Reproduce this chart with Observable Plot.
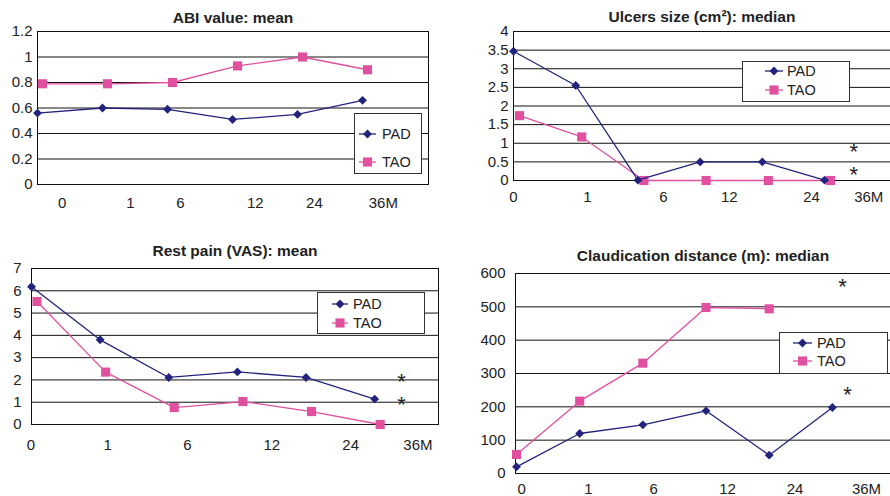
<!DOCTYPE html>
<html><head><meta charset="utf-8">
<script src="https://cdn.jsdelivr.net/npm/d3@7"></script>
<script src="https://cdn.jsdelivr.net/npm/@observablehq/plot@0.6"></script>
<style>
body{margin:0;background:#fff;}
#root{position:relative;width:890px;height:496px;overflow:hidden;font-family:"Liberation Sans",Arial,sans-serif;background:#fff;}
.panel{position:absolute;}
.panel svg{overflow:visible;}
.legend{position:absolute;background:#fff;border:1px solid #333;box-sizing:border-box;}
</style></head><body><div id="root"></div>
<script>
// ---- data ----
const timeLabels = ["0","1","6","12","24","36M"];
const seriesNames = ["PAD","TAO"];

const abiPAD = [0.56,0.60,0.59,0.51,0.55,0.66];
const abiTAO = [0.79,0.79,0.80,0.93,1.00,0.90];
const abiTicks = [0,0.2,0.4,0.6,0.8,1,1.2];

const ulcerPAD = [3.47,2.55,0.01,0.5,0.5,0.01];
const ulcerTAO = [1.74,1.17,0.0,0.0,0.0,0.0];
const ulcerTicks = [0,0.5,1,1.5,2,2.5,3,3.5,4];
const ulcerStars = [{t:5.47,v:0.86},{t:5.47,v:0.24}];

const painPAD = [6.18,3.8,2.11,2.36,2.11,1.14];
const painTAO = [5.52,2.35,0.76,1.03,0.58,0.0];
const painTicks = [0,1,2,3,4,5,6,7];
const painStars = [{t:5.39,v:2.06},{t:5.39,v:0.99}];

const claudPAD = [20,120,146,188,55,198];
const claudTAO = [57,217,331,498,494];
const claudTicks = [0,100,200,300,400,500,600];
const claudStars = [{t:5.16,v:570},{t:5.24,v:246}];

// ---- style ----
const PADcolor = "#23237e";
const TAOcolor = "#e0509f";
const ink = "#222";

// ---- layout ----
const panels = [
  {title:"ABI value: mean", pad:abiPAD, tao:abiTAO, yTicks:abiTicks, stars:[],
   box:{left:0,top:0,width:445,height:230}, margin:{top:31,right:17,bottom:46,left:37},
   xDomain:[0,6.015], labelAt:[0.38,1.43,2.2,3.35,4.26,5.32], labelDy:19, taoShift:5, yPad:5, titleDy:-13.5, fullFrame:true,
   legend:{left:354,top:113,width:68,height:61,rows:[21,49],line:[5,22],text:28}},
  {title:"Ulcers size (cm²): median", pad:ulcerPAD, tao:ulcerTAO, yTicks:ulcerTicks, stars:ulcerStars,
   box:{left:445,top:0,width:445,height:230}, margin:{top:31,right:0,bottom:50,left:68},
   xDomain:[0,6.06], labelAt:[0,1.19,2.41,3.47,4.79,5.71], labelDy:17, taoShift:6, yPad:5, titleDy:-14, fullFrame:false,
   legend:{left:742,top:61,width:108,height:41,rows:[10,29],line:[23,41],text:45}},
  {title:"Rest pain (VAS): mean", pad:painPAD, tao:painTAO, yTicks:painTicks, stars:painStars,
   box:{left:0,top:230,width:445,height:266}, margin:{top:38,right:7,bottom:72,left:31},
   xDomain:[0,5.93], labelAt:[-0.01,1.11,2.27,3.5,4.65,5.63], labelDy:21, taoShift:5.5, yPad:10, titleDy:-17, fullFrame:true,
   legend:{left:317,top:292,width:108,height:42,rows:[12,31],line:[15,31],text:36}},
  {title:"Claudication distance (m): median", pad:claudPAD, tao:claudTAO, yTicks:claudTicks, stars:claudStars,
   box:{left:445,top:230,width:445,height:266}, margin:{top:43,right:0,bottom:23,left:70},
   xDomain:[-0.016,5.92], labelAt:[0.08,1.14,2.17,3.34,4.41,5.54], labelDy:16, taoShift:0, yPad:10, titleDy:-17, fullFrame:false,
   legend:{left:779,top:332,width:109,height:42,rows:[11,29],line:[14,33],text:38}}
];

const root = document.getElementById("root");

function drawPanel(p) {
  const rows = [];
  p.pad.forEach((v,i) => rows.push({series:"PAD", t:i, v}));
  p.tao.forEach((v,i) => rows.push({series:"TAO", t:i, v}));
  const PAD = rows.filter(d => d.series === "PAD");
  const TAO = rows.filter(d => d.series === "TAO");
  const yMax = p.yTicks[p.yTicks.length-1];
  const marks = [
    Plot.gridY(p.yTicks, {stroke:"#111", strokeOpacity:1, strokeWidth:1}),
    p.fullFrame ? Plot.frame({stroke:"#111", strokeWidth:1}) : Plot.ruleX([p.xDomain[0]], {stroke:"#111", strokeWidth:1}),
    Plot.axisY({ticks:p.yTicks, tickSize:0, tickPadding:p.yPad, fontSize:15, fill:ink, label:null, tickFormat:d => String(d)}),
    Plot.text(timeLabels, {x:(d,i) => p.labelAt[i], frameAnchor:"bottom", lineAnchor:"middle", dy:p.labelDy, fontSize:15, fill:ink, text:d => d}),
    Plot.text([p.title], {frameAnchor:"top", lineAnchor:"middle", dy:p.titleDy, fontSize:15.5, fontWeight:"bold", fill:ink, text:d => d}),
    Plot.line(TAO, {x:"t", y:"v", stroke:TAOcolor, strokeWidth:1.3, dx:p.taoShift}),
    Plot.dot(TAO, {x:"t", y:"v", symbol:"square2", r:5.8, fill:TAOcolor, stroke:"none", dx:p.taoShift}),
    Plot.line(PAD, {x:"t", y:"v", stroke:PADcolor, strokeWidth:1.3}),
    Plot.dot(PAD, {x:"t", y:"v", symbol:"diamond2", r:4, fill:PADcolor, stroke:"none"}),
    Plot.text(p.stars, {x:"t", y:"v", text:() => "*", fontSize:22, lineAnchor:"middle", dy:3, fill:ink})
  ];
  const chart = Plot.plot({
    width:p.box.width, height:p.box.height,
    marginTop:p.margin.top, marginRight:p.margin.right, marginBottom:p.margin.bottom, marginLeft:p.margin.left,
    style:{fontFamily:'"Liberation Sans", Arial, sans-serif', background:"transparent", overflow:"visible"},
    x:{domain:p.xDomain, axis:null},
    y:{domain:[0,yMax], axis:null},
    marks
  });
  const div = document.createElement("div");
  div.className = "panel";
  div.style.left = p.box.left + "px";
  div.style.top = p.box.top + "px";
  div.appendChild(chart);
  root.appendChild(div);

  // legend
  const L = p.legend;
  const lg = document.createElement("div");
  lg.className = "legend";
  Object.assign(lg.style, {left:L.left+"px", top:L.top+"px", width:L.width+"px", height:L.height+"px"});
  root.appendChild(lg);
  const svg = d3.select(lg).append("svg").attr("width", L.width).attr("height", L.height)
    .style("position","absolute").style("left","-1px").style("top","-1px");
  const specs = [
    {name:seriesNames[0], color:PADcolor, sym:d3.symbolDiamond2, r:4},
    {name:seriesNames[1], color:TAOcolor, sym:d3.symbolSquare2, r:5.8}
  ];
  specs.forEach((s,k) => {
    const y = L.rows[k];
    svg.append("line").attr("x1",L.line[0]).attr("x2",L.line[1]).attr("y1",y).attr("y2",y)
      .attr("stroke",s.color).attr("stroke-width",1.3);
    svg.append("path").attr("d", d3.symbol(s.sym, Math.PI*s.r*s.r)())
      .attr("transform",`translate(${(L.line[0]+L.line[1])/2},${y})`).attr("fill",s.color);
    svg.append("text").attr("x",L.text).attr("y",y).attr("dy","0.35em")
      .attr("font-size",14.5).attr("fill",ink).attr("font-family",'"Liberation Sans", Arial, sans-serif').text(s.name);
  });
}
panels.forEach(drawPanel);
</script></body></html>
